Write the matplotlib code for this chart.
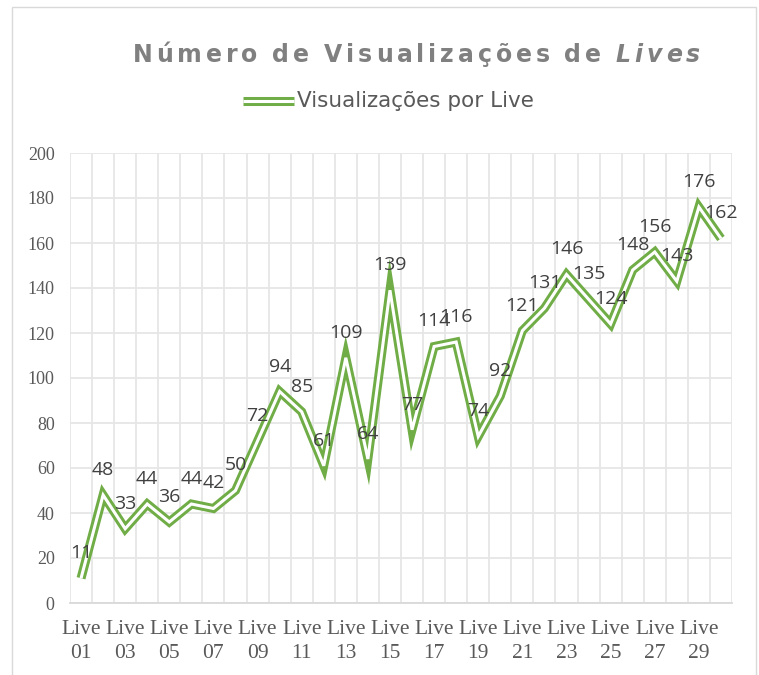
import numpy as np
import matplotlib
matplotlib.use("Agg")
import matplotlib.pyplot as plt
from matplotlib.lines import Line2D
from matplotlib.patches import Rectangle
from matplotlib.transforms import IdentityTransform

# visualizações por live
lives = [f"{i:02d}" for i in range(1, 31)]
views = [11, 48, 33, 44, 36, 44, 42, 50, 72, 94, 85, 61, 109, 64, 139,
         77, 114, 116, 74, 92, 121, 131, 146, 135, 124, 148, 156, 143, 176, 162]
y_ticks = list(range(0, 201, 20))
series_name = "Visualizações por Live"

GREEN = "#70AD47"
GRID = "#E6E6E6"
TICK_TXT = "#595959"
LABEL_TXT = "#404040"

W, H = 759, 675
fig = plt.figure(figsize=(W / 100, H / 100), dpi=100)
px = IdentityTransform()
renderer = fig.canvas.get_renderer()

# chart area border
fig.add_artist(Rectangle((12, -5), 744, 673, transform=px, fill=False,
                         edgecolor="#D9D9D9", lw=1.0))

ax = fig.add_axes([70 / W, 72 / H, 662 / W, 450 / H])
x = np.arange(len(views)) + 0.5

# compound (double) line: thick green with a thin white core
ax.plot(x, views, color=GREEN, lw=6.5, solid_joinstyle="miter",
        solid_capstyle="butt", zorder=3)
ax.plot(x, views, color="white", lw=2.2, solid_joinstyle="miter",
        solid_capstyle="butt", zorder=4)

for xi, v in zip(x, views):
    ax.annotate(str(v), (xi, v), xytext=(0, 18), textcoords="offset points",
                ha="center", va="center", fontsize=14, family="Open Sans",
                color=LABEL_TXT, zorder=5)

ax.set_xlim(0, len(views))
ax.set_ylim(0, 200)

ax.set_xticks(np.arange(len(views) + 1), minor=True)
ax.set_xticks(x[::2])
ax.set_xticklabels([f"Live\n{n}" for n in lives[::2]], linespacing=1.35)
ax.set_yticks(y_ticks)

ax.grid(which="minor", axis="x", color=GRID, lw=1.3)
ax.grid(which="major", axis="y", color=GRID, lw=1.3)
ax.set_axisbelow(True)
ax.tick_params(which="both", length=0)
ax.tick_params(axis="y", pad=11)
ax.tick_params(axis="x", pad=12)
for lab in ax.get_xticklabels():
    lab.set_family("Liberation Serif")
    lab.set_fontsize(15.5)
    lab.set_color(TICK_TXT)
for lab in ax.get_yticklabels():
    lab.set_family("Liberation Serif")
    lab.set_fontsize(13)
    lab.set_color(TICK_TXT)

for side in ["top", "right", "left"]:
    ax.spines[side].set_visible(False)
ax.spines["bottom"].set_color("#D9D9D9")
ax.spines["bottom"].set_linewidth(1.3)

# title with wide letter spacing, last word in italic
pieces = [("Número de Visualizações de ", "normal"), ("Lives", "oblique")]
title_left, title_right = 133, 700
word_gap = 7.0
base_y = H - 62
chars = []
for s, style in pieces:
    for ch in s:
        if ch == " ":
            chars.append((None, word_gap))
            continue
        t = fig.text(0, base_y, ch, transform=px, fontsize=17,
                     family="DejaVu Sans", weight="bold", style=style,
                     color="#808080", va="baseline", ha="left")
        chars.append((t, t.get_window_extent(renderer).width))
spacing = (title_right - title_left - sum(w for _, w in chars)) / (len(chars) - 1)
cur = title_left
for t, w in chars:
    if t is not None:
        t.set_x(cur)
    cur += w + spacing

# legend
ly = H - 101
fig.add_artist(Line2D([243, 294], [ly, ly], transform=px, color=GREEN,
                      lw=6.5, solid_capstyle="butt"))
fig.add_artist(Line2D([243, 294], [ly, ly], transform=px, color="white",
                      lw=2.2, solid_capstyle="butt"))
fig.text(297, ly, series_name, transform=px, fontsize=15.5,
         family="DejaVu Sans", color=TICK_TXT, va="center", ha="left")

fig.savefig("out.png", dpi=100)
